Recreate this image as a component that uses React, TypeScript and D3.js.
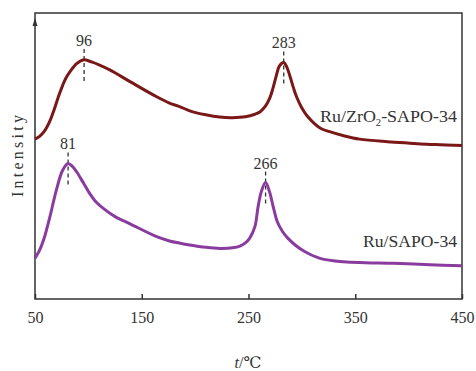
import { useEffect, useRef } from 'react';
import * as d3 from 'd3';

// Ru/ZrO2-SAPO-34 (upper curve)
const zrTemp = [50, 54, 59, 64, 68, 72, 76, 79, 83, 89, 95, 103, 120, 139, 164, 176, 186, 195, 210, 223, 235, 247, 256, 261, 266, 270, 273, 276, 279, 283, 286, 289, 292, 295, 300, 305, 317, 326, 340, 354, 380, 401, 425, 450];
const zrIntensity = [55.9, 56.8, 58.8, 62.3, 66.3, 70.8, 74.8, 77.3, 79.6, 82.3, 83.6, 82.9, 80.1, 76.0, 70.7, 68.5, 67.2, 65.8, 64.4, 63.6, 63.4, 63.7, 64.6, 65.5, 67.5, 70.3, 73.8, 78.0, 81.5, 82.7, 81.0, 77.7, 74.0, 70.7, 66.8, 64.0, 59.8, 58.5, 57.0, 55.9, 55.0, 54.5, 54.0, 53.7];

// Ru/SAPO-34 (lower curve)
const ruTemp = [50, 54, 58, 64, 70, 76, 81, 85, 89, 95, 101, 107, 114, 125, 139, 164, 176, 186, 195, 210, 223, 235, 242, 247, 251, 256, 259, 262, 266, 270, 273, 277, 282, 287, 294, 303, 317, 339, 360, 386, 420, 450];
const ruIntensity = [14.3, 16.8, 20.6, 28.8, 38.1, 45.1, 47.4, 46.4, 44.5, 40.8, 37.0, 34.0, 31.7, 28.8, 26.3, 21.8, 20.3, 19.5, 18.9, 18.1, 17.7, 17.9, 18.5, 19.6, 21.2, 25.3, 32.3, 37.5, 40.7, 37.1, 32.5, 27.0, 23.5, 21.2, 18.8, 16.5, 14.2, 13.0, 12.7, 12.5, 12.0, 11.6];

const peakTemps = [96, 283, 81, 266];
const peakIntensity = [83.6, 82.7, 47.4, 40.7];

const xTicks = [50, 150, 250, 350, 450];

const ZR_COLOR = '#7a1717';
const RU_COLOR = '#8a3c9e';
const FONT = '"Liberation Serif", "DejaVu Serif", "Noto Sans CJK SC", serif';

export default function App() {
  const ref = useRef<SVGSVGElement | null>(null);

  useEffect(() => {
    if (!ref.current) return;
    const svg = d3.select(ref.current);
    svg.selectAll('*').remove();

    const left = 35, right = 462, top = 13, bottom = 299;

    const x = d3.scaleLinear().domain([50, 450]).range([left, right]);
    const y = d3.scaleLinear().domain([0, 100]).range([bottom, top]);

    // frame
    svg.append('rect')
      .attr('x', left)
      .attr('y', top)
      .attr('width', right - left)
      .attr('height', bottom - top)
      .attr('fill', 'none')
      .attr('stroke', '#333')
      .attr('stroke-width', 1.5);

    // arrow on y axis
    svg.append('path')
      .attr('d', `M${left},${top + 5} L${left - 2.5},${top + 13} L${left + 2.5},${top + 13} Z`)
      .attr('fill', '#333');

    // x axis
    const xAxis = svg.append('g')
      .attr('transform', `translate(0,${bottom})`)
      .call(d3.axisBottom(x).tickValues(xTicks).tickSize(-5).tickPadding(13).tickFormat(d3.format('d')));
    xAxis.select('.domain').remove();
    xAxis.selectAll('line').attr('stroke', '#333').attr('stroke-width', 1.5);
    xAxis.selectAll('text')
      .attr('fill', '#333')
      .style('font-family', FONT)
      .style('font-size', '16px');

    svg.append('text')
      .attr('x', 248)
      .attr('y', 368)
      .attr('text-anchor', 'middle')
      .attr('fill', '#333')
      .style('font-family', FONT)
      .style('font-size', '16px')
      .call(t => {
        t.append('tspan').style('font-style', 'italic').text('t');
        t.append('tspan').text('/℃');
      });

    svg.append('text')
      .attr('transform', `translate(23,156) rotate(-90)`)
      .attr('text-anchor', 'middle')
      .attr('fill', '#333')
      .attr('textLength', 82)
      .attr('lengthAdjust', 'spacing')
      .style('font-family', FONT)
      .style('font-size', '16px')
      .text('Intensity');

    const line = d3.line<[number, number]>()
      .x(d => x(d[0]))
      .y(d => y(d[1]))
      .curve(d3.curveCatmullRom.alpha(0.5));

    const zrData = zrTemp.map((t, i) => [t, zrIntensity[i]] as [number, number]);
    const ruData = ruTemp.map((t, i) => [t, ruIntensity[i]] as [number, number]);

    // peak markers
    peakTemps.forEach((t, i) => {
      const py = y(peakIntensity[i]);
      svg.append('line')
        .attr('x1', x(t)).attr('x2', x(t))
        .attr('y1', py - 11).attr('y2', py + 22)
        .attr('stroke', '#333')
        .attr('stroke-width', 1.3)
        .attr('stroke-dasharray', '4,3');
      svg.append('text')
        .attr('x', x(t))
        .attr('y', py - 14)
        .attr('text-anchor', 'middle')
        .attr('fill', '#333')
        .style('font-family', FONT)
        .style('font-size', '16px')
        .text(String(t));
    });

    svg.append('path')
      .datum(zrData)
      .attr('fill', 'none')
      .attr('stroke', ZR_COLOR)
      .attr('stroke-width', 3)
      .attr('d', line);

    svg.append('path')
      .datum(ruData)
      .attr('fill', 'none')
      .attr('stroke', RU_COLOR)
      .attr('stroke-width', 3)
      .attr('d', line);

    // series labels
    svg.append('text')
      .attr('x', right - 5)
      .attr('y', 122)
      .attr('text-anchor', 'end')
      .attr('fill', '#333')
      .attr('textLength', 137)
      .attr('lengthAdjust', 'spacingAndGlyphs')
      .style('font-family', FONT)
      .style('font-size', '17px')
      .call(t => {
        t.append('tspan').text('Ru/ZrO');
        t.append('tspan').attr('dy', 4).style('font-size', '10px').text('2');
        t.append('tspan').attr('dy', -4).text('-SAPO-34');
      });

    svg.append('text')
      .attr('x', right - 5)
      .attr('y', 247)
      .attr('text-anchor', 'end')
      .attr('fill', '#333')
      .attr('textLength', 94)
      .attr('lengthAdjust', 'spacingAndGlyphs')
      .style('font-family', FONT)
      .style('font-size', '17px')
      .text('Ru/SAPO-34');
  }, []);

  return (
    <svg
      ref={ref}
      width={476}
      height={371}
      style={{ position: 'absolute', left: 0, top: 0, background: '#fff' }}
    />
  );
}
